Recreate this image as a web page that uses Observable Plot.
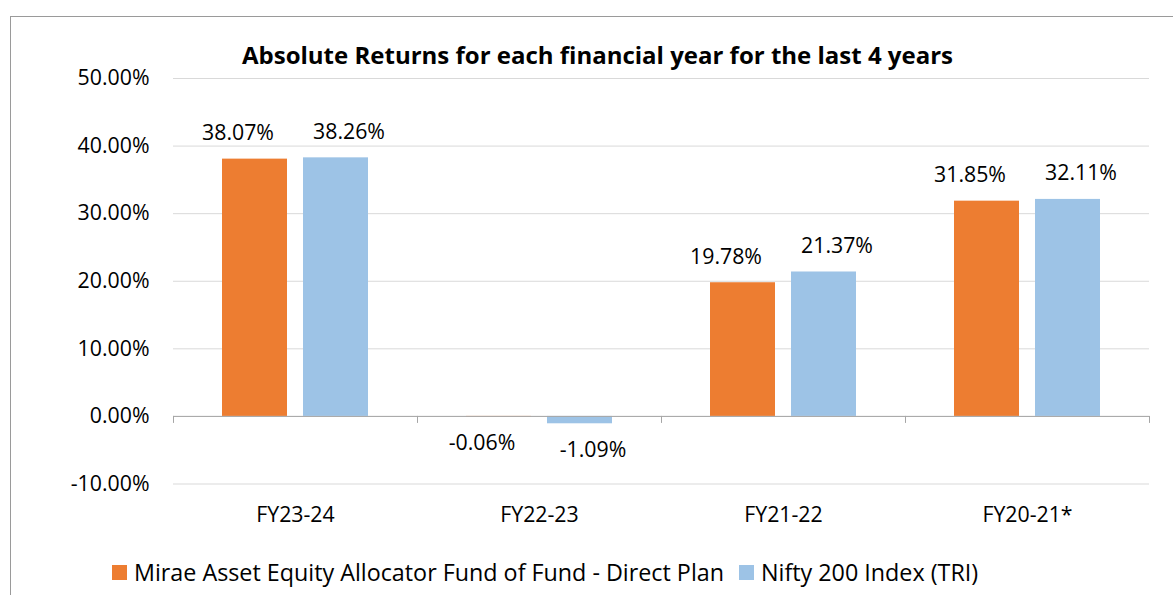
<!DOCTYPE html>
<html><head><meta charset="utf-8">
<script src="https://cdn.jsdelivr.net/npm/d3@7"></script>
<script src="https://cdn.jsdelivr.net/npm/@observablehq/plot@0.6"></script>
<style>
html,body{margin:0;padding:0;background:#fff;width:1173px;height:595px;overflow:hidden;font-family:"Open Sans", sans-serif;color:#000;}
#frame{position:absolute;left:10px;top:16px;width:1200px;height:700px;border:1px solid #9a9a9a;box-sizing:border-box;}
#title{position:absolute;left:10px;width:1175px;top:41px;line-height:1.2;text-align:center;font-weight:bold;font-size:24px;}
#chart{position:absolute;left:0;top:0;}
#legend{position:absolute;left:112px;top:559px;}
#legend > div{min-height:0 !important;margin:0 !important;font-size:23.3px !important;font-family:"Open Sans",sans-serif !important;color:#000 !important;line-height:1.2;}
#legend span{margin-right:15px !important;}
#legend svg{margin-right:7px !important;}
</style></head><body>
<div id="frame"></div>
<div id="title">Absolute Returns for each financial year for the last 4 years</div>
<div id="chart"></div>
<div id="legend"></div>
<script>
const categories = ["FY23-24", "FY22-23", "FY21-22", "FY20-21*"];
const series = ["Mirae Asset Equity Allocator Fund of Fund - Direct Plan", "Nifty 200 Index (TRI)"];
const fundValues = [38.07, -0.06, 19.78, 31.85];
const indexValues = [38.26, -1.09, 21.37, 32.11];
const yTicks = [-10, 0, 10, 20, 30, 40, 50];
const colors = ["#ED7D31", "#9DC3E6"];

const rows = [];
categories.forEach((c, i) => {
  rows.push({cat: c, series: series[0], value: fundValues[i]});
  rows.push({cat: c, series: series[1], value: indexValues[i]});
});

const W = 1173, H = 545;
const mL = 172, mR = 23, mT = 78, mB = H - 483.5;
const pi = 0.2, po = 0.6;
const facetW = (W - mL - mR) / categories.length;
const step = facetW / (2 - pi + 2 * po);
const bw = step * (1 - pi);
const edgeOff = po * step + bw / 2;
const fmt = v => v.toFixed(2) + "%";
const labelGap = 26;
const fs = 21.3;

const chart = Plot.plot({
  width: W, height: H,
  marginLeft: mL, marginRight: mR, marginTop: mT, marginBottom: mB,
  style: {fontFamily: "'Open Sans', sans-serif", fontSize: fs + "px", background: "transparent", color: "#000", overflow: "visible"},
  fx: {domain: categories, padding: 0, label: null},
  x: {domain: series, paddingInner: pi, paddingOuter: po, axis: null},
  y: {domain: [-10, 50]},
  color: {domain: series, range: colors},
  marks: [
    Plot.gridY(yTicks, {stroke: "#D9D9D9", strokeOpacity: 1}),
    Plot.axisY(yTicks, {tickSize: 0, tickPadding: 24, tickFormat: fmt, label: null, fontSize: fs}),
    Plot.axisFx({anchor: "bottom", tickSize: 0, tickPadding: 22.5, label: null, fontSize: fs}),
    Plot.barY(rows, {fx: "cat", x: "series", y: "value", fill: "series"}),
    Plot.ruleY([0], {stroke: "#A6A6A6"}),
    Plot.ruleX(categories, {fx: d => d, x: () => series[0], y1: 0, y2: 0, insetBottom: -7, dx: -edgeOff, stroke: "#A6A6A6"}),
    Plot.ruleX(categories.slice(-1), {fx: d => d, x: () => series[1], y1: 0, y2: 0, insetBottom: -7, dx: edgeOff, stroke: "#A6A6A6"}),
    Plot.text(rows, {filter: d => d.series === series[0] && d.value >= 0, fx: "cat", x: "series", y: "value", text: d => fmt(d.value), dy: -labelGap, dx: -17, fontSize: fs}),
    Plot.text(rows, {filter: d => d.series === series[0] && d.value < 0, fx: "cat", x: "series", y: "value", text: d => fmt(d.value), dy: labelGap, dx: -17, fontSize: fs}),
    Plot.text(rows, {filter: d => d.series === series[1] && d.value >= 0, fx: "cat", x: "series", y: "value", text: d => fmt(d.value), dy: -labelGap, dx: 13, fontSize: fs}),
    Plot.text(rows, {filter: d => d.series === series[1] && d.value < 0, fx: "cat", x: "series", y: "value", text: d => fmt(d.value), dy: labelGap, dx: 13, fontSize: fs})
  ]
});
document.getElementById("chart").appendChild(chart);

const legend = Plot.legend({
  color: {domain: series, range: colors},
  legend: "swatches",
  swatchSize: 15,
  style: {fontSize: "23.3px", fontFamily: "'Open Sans', sans-serif", color: "#000"}
});
document.getElementById("legend").appendChild(legend);
</script></body></html>
